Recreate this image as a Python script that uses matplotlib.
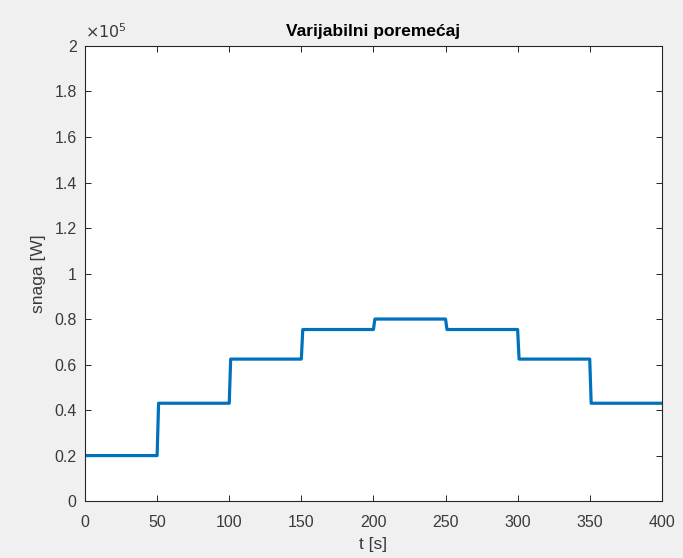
import matplotlib
matplotlib.use("Agg")
import matplotlib.pyplot as plt
from matplotlib.ticker import FuncFormatter, MultipleLocator

plt.rcParams['font.family'] = ['Liberation Sans', 'DejaVu Sans']

# Piecewise-constant disturbance power (W)
step_times = [0, 50, 100, 150, 200, 250, 300, 350, 400]
power_levels = [20000, 43000, 62400, 75400, 80000, 75400, 62400, 43000]
ramp = 1.0  # sampling step of the simulation (s)

t = [step_times[0]]
p = [power_levels[0]]
for i, lvl in enumerate(power_levels):
    if i > 0:
        t.append(step_times[i] + ramp)
        p.append(lvl)
    t.append(step_times[i + 1])
    p.append(lvl)

fig = plt.figure(figsize=(6.83, 5.58), dpi=100, facecolor='#f0f0f0')
ax = fig.add_axes([0.1245, 0.102, 0.8445, 0.8156])
ax.set_facecolor('white')
ax.plot(t, p, color='#0072BD', lw=2.3, solid_joinstyle='round')

ax.set_xlim(0, 400)
ax.set_ylim(0, 2e5)
ax.xaxis.set_major_locator(MultipleLocator(50))
ax.yaxis.set_major_locator(MultipleLocator(2e4))
ax.yaxis.set_major_formatter(FuncFormatter(lambda v, _: f"{v/1e5:g}"))

tc = '#3a3a3a'
for s in ax.spines.values():
    s.set_color('#262626')
    s.set_linewidth(0.8)
ax.tick_params(direction='in', length=4, width=0.7, colors='#262626',
               labelcolor=tc, labelsize=11.5, top=True, right=True, pad=6)
ax.tick_params(axis='x', pad=10)

ax.set_xlabel('t [s]', fontsize=12.5, color=tc, labelpad=5)
ax.set_ylabel('snaga [W]', fontsize=12.5, color=tc, labelpad=6)
ax.set_title('Varijabilni poremećaj', fontsize=12.5, fontweight='bold',
             color='black', pad=7)
ax.text(0.0, 1.01, r'$\times10^5$', transform=ax.transAxes, fontsize=11.5,
        color=tc, ha='left', va='bottom')

fig.savefig('out.png', dpi=100, facecolor=fig.get_facecolor())
